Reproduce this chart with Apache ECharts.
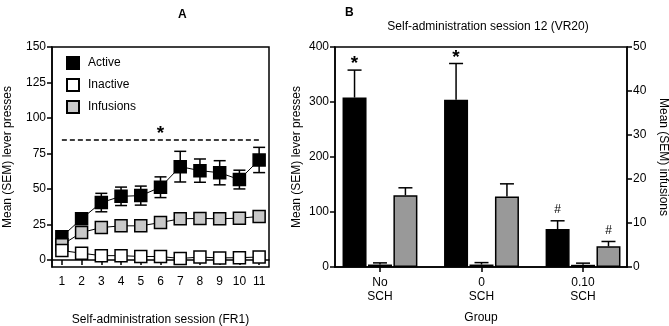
<!DOCTYPE html>
<html>
<head>
<meta charset="utf-8">
<script src="https://cdn.jsdelivr.net/npm/echarts@6/dist/echarts.min.js"></script>
<style>
html, body { margin: 0; padding: 0; background: #fff; }
#root { width: 669px; height: 326px; }
</style>
</head>
<body>
<div id="root"></div>
<script>
// panel A - FR1 sessions
const sessions = ['1', '2', '3', '4', '5', '6', '7', '8', '9', '10', '11'];
const activeA = [16.4, 29, 40.4, 44.8, 45.3, 51.2, 65.7, 62.9, 61.4, 56.6, 70.4];
const activeSemA = [2, 3, 6.5, 6.5, 6.7, 7.3, 10.8, 8.2, 8.5, 6.6, 8.9];
const inactiveA = [6.6, 4.7, 3, 3, 2.4, 2.4, 1, 2, 1.4, 1.6, 2];
const infusionsA = [10.6, 19.3, 22.8, 24, 24, 26.3, 29, 29.2, 29, 29.4, 30.6];
const yTicksA = [0, 25, 50, 75, 100, 125, 150];
const sigLineA = 85;

// panel B - session 12 (VR20)
const groups = ['No\nSCH', '0\nSCH', '0.10\nSCH'];
const groupPos = [1, 2, 3];
const activeB = [308, 304, 69];
const activeSemB = [50, 66, 15];
const inactiveB = [4.5, 4.5, 4];
const inactiveSemB = [3, 3.5, 3];
const infusionsB = [16.3, 16, 4.7];
const infusionsSemB = [1.7, 2.9, 1.1];
const marksActiveB = ['*', '*', '#'];
const marksInfB = ['', '', '#'];

const FONT = 'Liberation Sans, Arial, sans-serif';
let myChart = echarts.init(document.getElementById('root'));

const axisLine = { show: true, lineStyle: { color: '#000', width: 1.5 } };
const axisTick = { show: true, length: 5, lineStyle: { color: '#000', width: 1.5 } };
const lbl = { color: '#000', fontSize: 12, fontFamily: FONT };

function markText(x, y, mark) {
    const star = mark === '*';
    return {
        type: 'text', x: x, y: star ? y - 6 : y - 11,
        style: {
            text: mark, fill: '#000',
            font: (star ? 'bold 19px ' : '12px ') + FONT,
            align: 'center', verticalAlign: 'middle',
            textAlign: 'center', textVerticalAlign: 'middle'
        }
    };
}

function errB(vals, sems, yIdx, dx, marks) {
    return {
        type: 'custom', xAxisIndex: 1, yAxisIndex: yIdx, z: 1,
        data: groupPos.map((p, i) => [p, vals[i], sems[i], i]),
        renderItem: function (params, api) {
            const top = api.coord([api.value(0), api.value(1) + api.value(2)]);
            const base = api.coord([api.value(0), api.value(1)]);
            const x = top[0] + dx;
            const kids = [
                { type: 'line', shape: { x1: x, y1: base[1], x2: x, y2: top[1] }, style: { stroke: '#000', lineWidth: 1.5 } },
                { type: 'line', shape: { x1: x - 7, y1: top[1], x2: x + 7, y2: top[1] }, style: { stroke: '#000', lineWidth: 1.5 } }
            ];
            const m = marks ? marks[api.value(3)] : '';
            if (m) kids.push(markText(x, top[1], m));
            return { type: 'group', children: kids };
        }
    };
}

let option = {
    animation: false,
    textStyle: { fontFamily: FONT, color: '#000' },
    title: [
        { text: 'A', left: 173, top: 4, textStyle: { fontSize: 12, fontWeight: 'bold', color: '#000' } },
        { text: 'B', left: 340, top: 2, textStyle: { fontSize: 12, fontWeight: 'bold', color: '#000' } },
        { text: 'Self-administration session 12 (VR20)', left: 483, top: 16, textAlign: 'center',
          textStyle: { fontSize: 12, fontWeight: 'normal', color: '#000' } }
    ],
    legend: {
        data: ['Active', 'Inactive', 'Infusions'],
        orient: 'vertical', left: 66, top: 56, padding: 0,
        itemWidth: 12, itemHeight: 12, itemGap: 8, icon: 'rect',
        textStyle: { fontSize: 12, color: '#000', padding: [0, 0, 0, 4] }
    },
    grid: [
        { left: 52, right: 400, top: 47, bottom: 59, outerBoundsMode: 'none', containLabel: false,
          show: true, borderColor: '#000', borderWidth: 1.5 },
        { left: 335, right: 42, top: 47, bottom: 59, outerBoundsMode: 'none', containLabel: false,
          show: true, borderColor: '#000', borderWidth: 1.5 }
    ],
    xAxis: [
        {
            gridIndex: 0, type: 'category', data: sessions, boundaryGap: true,
            axisLine: axisLine, axisTick: Object.assign({ alignWithLabel: true }, axisTick),
            axisLabel: Object.assign({ margin: 9, interval: 0 }, lbl),
            name: 'Self-administration session (FR1)', nameLocation: 'middle', nameGap: 47,
            nameTextStyle: { fontSize: 12, color: '#000' }
        },
        {
            gridIndex: 1, type: 'value', min: 0.557, max: 3.433,
            axisLine: axisLine,
            axisTick: Object.assign({ customValues: groupPos }, axisTick),
            axisLabel: Object.assign({ customValues: groupPos, margin: 9, lineHeight: 14,
                formatter: v => groups[Math.round(v) - 1] }, lbl),
            splitLine: { show: false },
            name: 'Group', nameLocation: 'middle', nameGap: 45,
            nameTextStyle: { fontSize: 12, color: '#000' }
        }
    ],
    yAxis: [
        {
            gridIndex: 0, type: 'value', min: -5, max: 150,
            axisLine: axisLine,
            axisTick: Object.assign({ customValues: yTicksA }, axisTick),
            axisLabel: Object.assign({ customValues: yTicksA, margin: 6 }, lbl),
            splitLine: { show: false },
            name: 'Mean (SEM) lever presses', nameLocation: 'middle', nameGap: 38,
            nameTextStyle: { fontSize: 12, color: '#000' }
        },
        {
            gridIndex: 1, type: 'value', min: 0, max: 400, interval: 100,
            axisLine: axisLine, axisTick: axisTick,
            axisLabel: Object.assign({ margin: 6 }, lbl),
            splitLine: { show: false },
            name: 'Mean (SEM) lever presses', nameLocation: 'middle', nameGap: 32,
            nameTextStyle: { fontSize: 12, color: '#000' }
        },
        {
            gridIndex: 1, type: 'value', position: 'right', min: 0, max: 50, interval: 10,
            axisLine: axisLine, axisTick: axisTick,
            axisLabel: Object.assign({ margin: 6 }, lbl),
            splitLine: { show: false },
            name: 'Mean (SEM) infusions', nameLocation: 'middle', nameGap: 30, nameRotate: -90,
            nameTextStyle: { fontSize: 12, color: '#000' }
        }
    ],
    series: [
        {
            type: 'custom', xAxisIndex: 0, yAxisIndex: 0, z: 1,
            data: sessions.map((s, i) => [i, activeA[i], activeSemA[i]]),
            renderItem: function (params, api) {
                const t = api.coord([api.value(0), api.value(1) + api.value(2)]);
                const b = api.coord([api.value(0), api.value(1) - api.value(2)]);
                const st = { stroke: '#000', lineWidth: 1.5 };
                return {
                    type: 'group', children: [
                        { type: 'line', shape: { x1: t[0], y1: t[1], x2: b[0], y2: b[1] }, style: st },
                        { type: 'line', shape: { x1: t[0] - 6, y1: t[1], x2: t[0] + 6, y2: t[1] }, style: st },
                        { type: 'line', shape: { x1: b[0] - 6, y1: b[1], x2: b[0] + 6, y2: b[1] }, style: st }
                    ]
                };
            }
        },
        {
            name: 'Active', type: 'line', xAxisIndex: 0, yAxisIndex: 0, data: activeA,
            symbol: 'rect', symbolSize: 12, showAllSymbol: true,
            itemStyle: { color: '#000', borderColor: '#000', borderWidth: 1.5 },
            lineStyle: { color: '#000', width: 1 },
            markLine: {
                silent: true, symbol: 'none',
                lineStyle: { color: '#000', width: 1.5, type: [5, 3] },
                label: { show: true, position: 'middle', formatter: '*', fontSize: 19, fontWeight: 'bold', color: '#000', distance: -4 },
                data: [[{ coord: ['1', sigLineA] }, { coord: ['11', sigLineA] }]]
            }
        },
        {
            name: 'Infusions', type: 'line', xAxisIndex: 0, yAxisIndex: 0, data: infusionsA,
            symbol: 'rect', symbolSize: 12, showAllSymbol: true,
            itemStyle: { color: '#c8c8c8', borderColor: '#000', borderWidth: 1.5 },
            lineStyle: { color: '#000', width: 1 }
        },
        {
            name: 'Inactive', type: 'line', xAxisIndex: 0, yAxisIndex: 0, data: inactiveA,
            symbol: 'rect', symbolSize: 12, showAllSymbol: true,
            itemStyle: { color: '#fff', borderColor: '#000', borderWidth: 1.5 },
            lineStyle: { color: '#000', width: 1 }
        },
        {
            type: 'bar', xAxisIndex: 1, yAxisIndex: 1, barWidth: 24, barGap: '6%',
            data: groupPos.map((p, i) => [p, activeB[i]]),
            itemStyle: { color: '#000', borderColor: '#000', borderWidth: 1.5 }
        },
        {
            type: 'bar', xAxisIndex: 1, yAxisIndex: 1, barWidth: 24, barGap: '6%',
            data: groupPos.map((p, i) => [p, inactiveB[i]]),
            itemStyle: { color: '#999', borderColor: '#000', borderWidth: 1.5 }
        },
        {
            type: 'bar', xAxisIndex: 1, yAxisIndex: 2, barWidth: 24, barGap: '6%',
            data: groupPos.map((p, i) => [p, infusionsB[i]]),
            itemStyle: { color: '#999', borderColor: '#000', borderWidth: 1.5 }
        },
        errB(activeB, activeSemB, 1, -25.44, marksActiveB),
        errB(inactiveB, inactiveSemB, 1, 0, null),
        errB(infusionsB, infusionsSemB, 2, 25.44, marksInfB)
    ]
};
myChart.setOption(option);
</script>
</body>
</html>
